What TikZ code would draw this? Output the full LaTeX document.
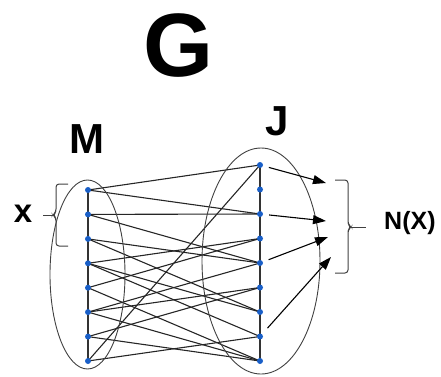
\documentclass[tikz,border=0pt]{standalone}
\usepackage{fontspec}
\setmainfont{Liberation Sans}
\usetikzlibrary{arrows.meta}
\definecolor{dotblue}{RGB}{25,95,200}
\pgfdeclarelayer{bg}
\pgfsetlayers{bg,main}
\begin{document}
\begin{tikzpicture}[x=1pt,y=-1pt,
  vdot/.style={circle,fill=dotblue,inner sep=0pt,minimum size=6pt},
  edge/.style={line width=1.1pt,black!85},
  column/.style={line width=1.1pt,black!80},
  setline/.style={line width=0.9pt,black!75},
  brace/.style={line width=1pt,black!75,rounded corners=3pt},
  arr/.style={line width=1.1pt,black,-{Triangle[length=13pt,width=9pt]},shorten <=6pt},
  lbl/.style={inner sep=0pt,font=\bfseries}]
\useasboundingbox (0,0) rectangle (441,376);
% titles
\node[lbl,font=\bfseries\fontsize{90}{90}\selectfont] (G) at (179,46) {G};
\node[lbl,font=\bfseries\fontsize{42}{42}\selectfont] (M) at (87,139) {M};
\node[lbl,font=\bfseries\fontsize{42}{42}\selectfont] (J) at (277,121) {J};
\node[lbl,font=\bfseries\fontsize{33}{33}\selectfont] (X) at (23,214) {x};
\node[lbl,font=\bfseries\fontsize{25}{25}\selectfont,anchor=west] (NX) at (384,223) {N(X)};
% left nodes
\foreach \i/\y in {1/190,2/214.4,3/238.9,4/263.3,5/287.7,6/312.1,7/336.6,8/361}
  \node[vdot] (L\i) at (88,\y) {};
% right nodes
\foreach \i/\y in {1/165,2/189.5,3/214,4/238.5,5/263,6/287.5,7/312,8/336.5,9/361}
  \node[vdot] (R\i) at (260,\y) {};
\begin{pgfonlayer}{bg}
  \draw[column] (L1.center) -- (L8.center);
  \draw[column] (R1.center) -- (R9.center);
  \foreach \a/\b in {1/1,1/3,2/3,2/5,3/5,3/7,4/4,4/7,4/8,5/4,5/9,6/5,6/6,6/9,7/6,7/9,8/1,8/8}
    \draw[edge] (L\a.center) -- (R\b.center);
\end{pgfonlayer}
% sets
\draw[setline] (87.5,274.5) ellipse [x radius=37.5, y radius=94.5];
\draw[setline] (261,261) ellipse [x radius=59, y radius=113];
% braces
\draw[brace] (68,184) -- (56,184) -- (56,212) -- (53,215) -- (56,218) -- (56,246) -- (68,246);
\coordinate (bx) at (43,215);
\draw[black!75,line width=1pt] (53,215) -- (bx);
\draw[brace] (335,180) -- (348,180) -- (348,224) -- (351,227) -- (348,230) -- (348,273) -- (335,273);
\coordinate (bn) at (366,227);
\draw[black!75,line width=1pt] (351,227) -- (bn);
% arrows
\coordinate (a1) at (326,183);
\coordinate (a2) at (326,221);
\coordinate (a3) at (328,237);
\coordinate (a4) at (331,257);
\draw[arr] (R1) -- (a1);
\draw[arr] (R3) -- (a2);
\draw[arr] (R5) -- (a3);
\draw[arr,shorten <=8pt] (R8) -- (a4);
\end{tikzpicture}
\end{document}
